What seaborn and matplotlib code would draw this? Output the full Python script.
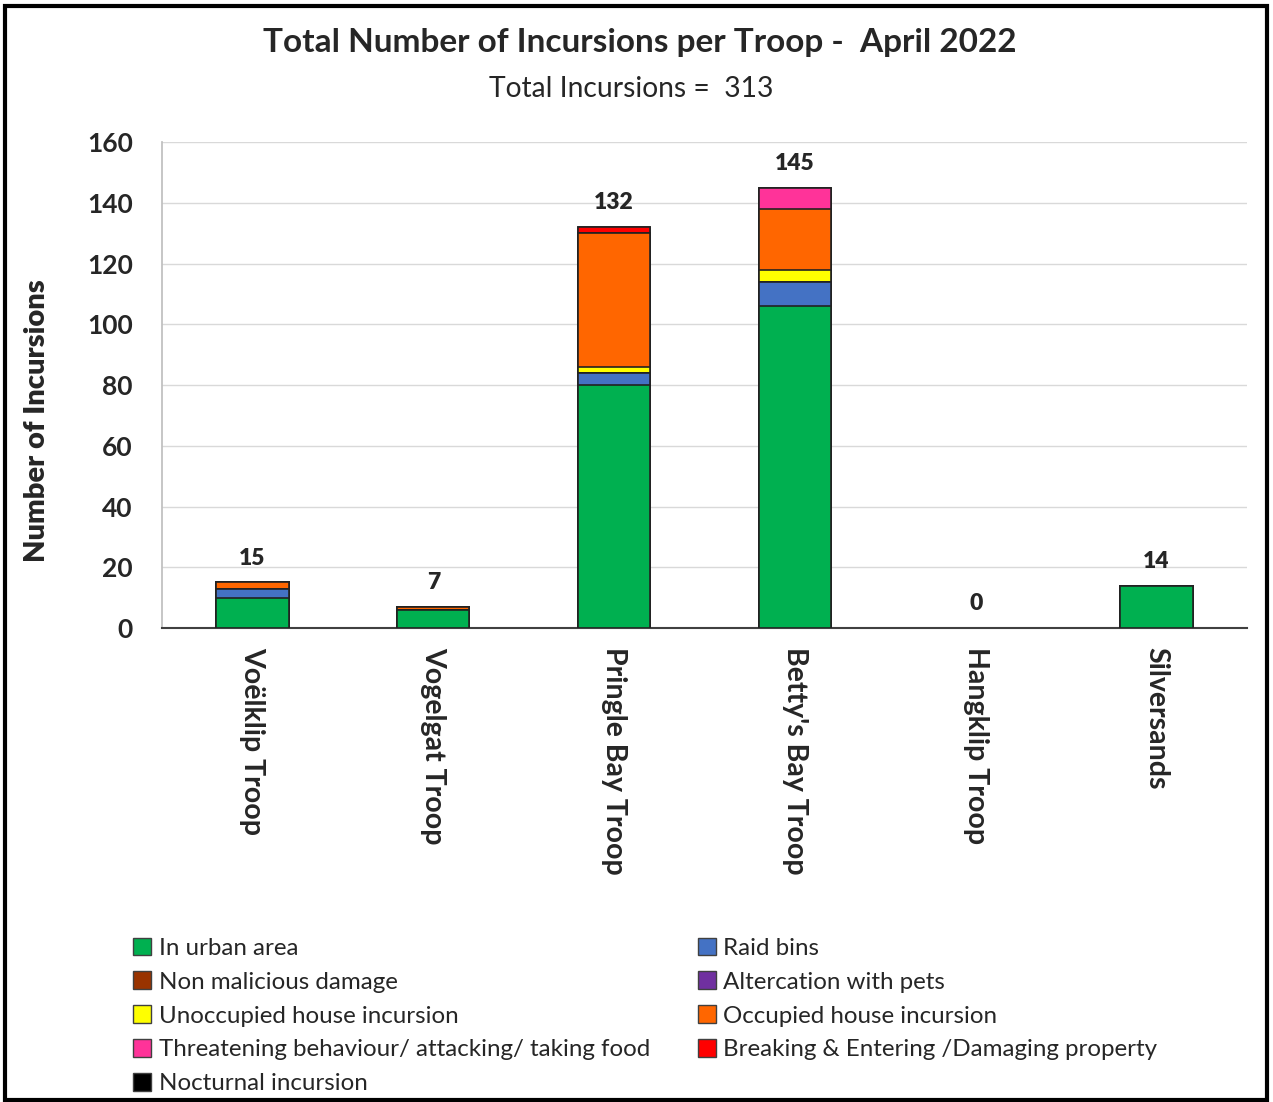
import matplotlib
matplotlib.use("Agg")
import matplotlib.pyplot as plt
from matplotlib.patches import Patch, Rectangle
import seaborn as sns
import pandas as pd
import numpy as np

troops = ["Voëlklip Troop", "Vogelgat Troop", "Pringle Bay Troop",
          "Betty's Bay Troop", "Hangklip Troop", "Silversands"]

in_urban_area = [10, 6, 80, 106, 0, 14]
raid_bins = [3, 0, 4, 8, 0, 0]
non_malicious_damage = [0, 0, 0, 0, 0, 0]
altercation_with_pets = [0, 0, 0, 0, 0, 0]
unoccupied_house = [0, 0, 2, 4, 0, 0]
occupied_house = [2, 1, 44, 20, 0, 0]
threatening = [0, 0, 0, 7, 0, 0]
breaking_entering = [0, 0, 2, 0, 0, 0]
nocturnal = [0, 0, 0, 0, 0, 0]

series_names = ["In urban area", "Raid bins", "Non malicious damage",
                "Altercation with pets", "Unoccupied house incursion",
                "Occupied house incursion",
                "Threatening behaviour/ attacking/ taking food",
                "Breaking & Entering /Damaging property",
                "Nocturnal incursion"]
series_values = [in_urban_area, raid_bins, non_malicious_damage,
                 altercation_with_pets, unoccupied_house, occupied_house,
                 threatening, breaking_entering, nocturnal]
series_colors = ["#00B050", "#4472C4", "#993300", "#7030A0", "#FFFF00",
                 "#FF6600", "#FF3399", "#FF0000", "#000000"]

sns.set_theme(style="white")
plt.rcParams["font.family"] = ["Lato", "DejaVu Sans"]

fig = plt.figure(figsize=(12.73, 11.02), dpi=100)
ax = fig.add_axes([0.1273, 0.4301, 0.8523, 0.4410])

# stacked bars: draw cumulative totals from the top layer down
cum = np.cumsum(np.array(series_values), axis=0)
for i in range(len(series_names) - 1, -1, -1):
    df = pd.DataFrame({"troop": troops, "value": cum[i]})
    sns.barplot(data=df, x="troop", y="value", color=series_colors[i],
                width=0.4, edgecolor="#222222", linewidth=1.2,
                saturation=1, ax=ax, zorder=3)

# hide empty (zero-height) bars
for p in ax.patches:
    if p.get_height() == 0:
        p.set_visible(False)

totals = cum[-1]
for j, t in enumerate(totals):
    ax.annotate(f"{t}", (j, t), xytext=(0, 10),
                textcoords="offset points", ha="center", va="bottom",
                fontsize=16.5, fontweight="heavy")

ax.set_ylim(0, 160)
ax.set_xlim(-0.5, 5.5)
ax.set_yticks(range(0, 161, 20))
ax.yaxis.grid(True, color="#D9D9D9", linewidth=1, zorder=0)
ax.set_axisbelow(True)
for s in ["top", "right"]:
    ax.spines[s].set_visible(False)
ax.spines["left"].set_color("#BFBFBF")
ax.spines["bottom"].set_color("#404040")
ax.spines["bottom"].set_linewidth(1.5)
ax.tick_params(axis="both", length=0)
ax.tick_params(axis="y", labelsize=19, pad=21)
ax.tick_params(axis="x", labelsize=20.5, pad=14)
for lbl in ax.get_yticklabels():
    lbl.set_fontweight("bold")
ax.set_xticks(range(len(troops)))
ax.set_xticklabels(troops, rotation=-90, fontweight="bold", va="top", ha="center")
ax.set_xlabel("")
ax.set_ylabel("Number of Incursions", fontsize=21, fontweight="heavy")
ax.yaxis.set_label_coords(-0.103, 0.426)

fig.text(0.5028, 0.961, "Total Number of Incursions per Troop -  April 2022",
         ha="center", va="center", fontsize=24, fontweight="bold")
fig.text(0.4957, 0.919, "Total Incursions =  313", ha="center", va="center",
         fontsize=20.3)

# legend: left column then right column
order = [0, 2, 4, 6, 8, 1, 3, 5, 7]
handles = [Patch(facecolor=series_colors[k], edgecolor="#404040", linewidth=1,
                 label=series_names[k]) for k in order]
fig.legend(handles=handles, loc="upper left", bbox_to_anchor=(0.097, 0.158),
           ncol=2, frameon=False, fontsize=17.4, handlelength=0.75,
           handleheight=0.75, handletextpad=0.3, columnspacing=2.0,
           labelspacing=0.52, borderaxespad=0)

fig.patches.append(Rectangle((0.004, 0.002), 0.991, 0.993, transform=fig.transFigure,
                             fill=False, edgecolor="black", linewidth=3))

fig.savefig("out.png", dpi=100)
